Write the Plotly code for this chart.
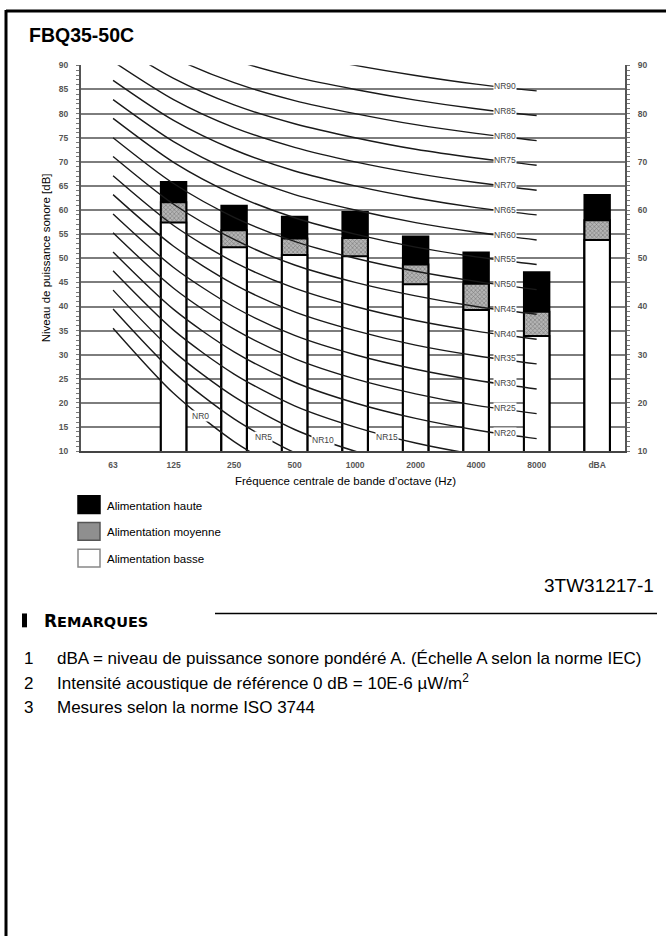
import plotly.graph_objects as go

# ---------------- data ----------------
categories = ["63", "125", "250", "500", "1000", "2000", "4000", "8000", "dBA"]
level_haute = [None, 65.8, 60.9, 58.6, 59.6, 54.5, 51.2, 47.1, 63.1]
level_moyenne = [None, 61.6, 55.8, 54.1, 54.2, 48.7, 44.7, 38.9, 57.9]
level_basse = [None, 57.4, 52.3, 50.7, 50.4, 44.6, 39.3, 33.9, 53.8]

nr_bands = ["63", "125", "250", "500", "1000", "2000", "4000", "8000"]
nr_numbers = [0, 5, 10, 15, 20, 25, 30, 35, 40, 45, 50, 55, 60, 65, 70, 75, 80, 85, 90]
nr_curves = [
    [35.5, 22.0, 12.0, 4.8, 0.0, -3.5, -6.1, -8.0],
    [39.5, 26.4, 16.7, 9.7, 5.0, 1.6, -1.0, -2.9],
    [43.4, 30.7, 21.3, 14.5, 10.0, 6.7, 4.2, 2.3],
    [47.4, 35.1, 26.0, 19.4, 15.0, 11.7, 9.3, 7.5],
    [51.3, 39.4, 30.6, 24.3, 20.0, 16.8, 14.4, 12.6],
    [55.3, 43.8, 35.3, 29.2, 25.0, 21.9, 19.5, 17.8],
    [59.2, 48.1, 39.9, 34.0, 30.0, 27.0, 24.7, 22.9],
    [63.2, 52.5, 44.6, 38.9, 35.0, 32.0, 29.8, 28.1],
    [67.1, 56.8, 49.2, 43.8, 40.0, 37.1, 34.9, 33.2],
    [71.1, 61.2, 53.9, 48.6, 45.0, 42.2, 40.0, 38.4],
    [75.0, 65.5, 58.5, 53.5, 50.0, 47.3, 45.2, 43.5],
    [79.0, 69.9, 63.2, 58.4, 55.0, 52.3, 50.3, 48.7],
    [82.9, 74.2, 67.8, 63.2, 60.0, 57.4, 55.4, 53.8],
    [86.9, 78.6, 72.5, 68.1, 65.0, 62.5, 60.5, 59.0],
    [90.8, 82.9, 77.1, 73.0, 70.0, 67.6, 65.7, 64.1],
    [94.8, 87.3, 81.8, 77.9, 75.0, 72.6, 70.8, 69.3],
    [98.7, 91.6, 86.4, 82.7, 80.0, 77.7, 75.9, 74.4],
    [102.7, 96.0, 91.1, 87.6, 85.0, 82.8, 81.0, 79.6],
    [106.6, 100.3, 95.7, 92.5, 90.0, 87.9, 86.1, 84.7],
]

y_ticks_left = [10, 15, 20, 25, 30, 35, 40, 45, 50, 55, 60, 65, 70, 75, 80, 85, 90]
y_ticks_right = [10, 20, 30, 40, 50, 60, 70, 80, 90]

legend_labels = ["Alimentation haute", "Alimentation moyenne", "Alimentation basse"]
chart_title = "FBQ35-50C"
x_title = "Fréquence centrale de bande d’octave (Hz)"
y_title = "Niveau de puissance sonore [dB]"
drawing_ref = "3TW31217-1"
notes = [
    "dBA = niveau de puissance sonore pondéré A. (Échelle A selon la norme IEC)",
    "Intensité acoustique de référence 0 dB = 10E-6 µW/m<sup>2</sup>",
    "Mesures selon la norme ISO 3744",
]

# ---------------- layout helpers ----------------
W, H = 666, 941
FONT = "Arial, 'Liberation Sans', sans-serif"


def px(x):
    return x / W


def py(y):
    return 1 - y / H


fig = go.Figure()

# NR curves
for n, vals in zip(nr_numbers, nr_curves):
    fig.add_trace(go.Scatter(
        x=nr_bands, y=vals, mode="lines",
        line=dict(color="#1a1a1a", width=1.4, shape="spline", smoothing=0.8),
        hoverinfo="skip", showlegend=False,
    ))

# bars (overlaid: highest level first)
bar_w = 0.42
fig.add_trace(go.Bar(
    x=categories, y=level_haute, width=bar_w, name=legend_labels[0],
    marker=dict(color="black", line=dict(color="black", width=2)),
))
fig.add_trace(go.Bar(
    x=categories, y=level_moyenne, width=bar_w, name=legend_labels[1],
    marker=dict(color="#9a9a9a", line=dict(color="black", width=2),
                pattern=dict(shape="x", size=3, solidity=0.35,
                             fgcolor="#3a3a3a", bgcolor="#b5b5b5")),
))
fig.add_trace(go.Bar(
    x=categories, y=level_basse, width=bar_w, name=legend_labels[2],
    marker=dict(color="white", line=dict(color="black", width=2)),
))

# dummy trace for the right axis
fig.add_trace(go.Scatter(x=[categories[0]], y=[None], yaxis="y2",
                         showlegend=False, hoverinfo="skip"))

tick_font = dict(family=FONT, size=8.5, color="#555", weight="bold")
minor = dict(dtick=1, ticks="outside", ticklen=3, tickcolor="#777",
             tickwidth=1, showgrid=False)

fig.update_layout(
    width=W, height=H,
    margin=dict(l=0, r=0, t=0, b=0),
    paper_bgcolor="white", plot_bgcolor="white",
    showlegend=False, barmode="overlay",
    font=dict(family=FONT, color="black"),
    xaxis=dict(
        type="category", categoryorder="array", categoryarray=categories,
        range=[-0.53, 8.46], domain=[px(81), px(625)],
        showgrid=False, showline=True, linecolor="#444", linewidth=1.5,
        ticks="", tickfont=tick_font, ticklabelstandoff=5,
        zeroline=False,
    ),
    yaxis=dict(
        range=[10, 90], domain=[py(451), py(61)],
        tickmode="array", tickvals=y_ticks_left,
        showgrid=True, gridcolor="#7d7d7d", gridwidth=1.5,
        showline=True, linecolor="#555", linewidth=2,
        ticks="outside", ticklen=3, tickcolor="#777",
        tickfont=tick_font, ticklabelstandoff=6,
        minor=minor, zeroline=False,
    ),
    yaxis2=dict(
        range=[10, 90], overlaying="y", side="right", anchor="x",
        tickmode="array", tickvals=y_ticks_right,
        showgrid=False, showline=True, linecolor="#555", linewidth=2,
        ticks="outside", ticklen=3, tickcolor="#777",
        tickfont=tick_font, ticklabelstandoff=6,
        minor=minor, zeroline=False,
    ),
)

annotations = []
shapes = []

# NR labels
label_font = dict(family=FONT, size=8.5, color="#444")
low_label_pos = {0: (1.44, 17.2), 5: (2.48, 13.0), 10: (3.47, 12.4), 15: (4.53, 13.0)}
for n, vals in zip(nr_numbers, nr_curves):
    if n in low_label_pos:
        lx, ly = low_label_pos[n]
    else:
        lx, ly = 6.48, (vals[6] + vals[7]) / 2 + 0.3
    annotations.append(dict(
        x=lx, y=ly, xref="x", yref="y", text=f"NR{n}", showarrow=False,
        font=label_font, bgcolor="white", borderpad=0,
    ))

# titles
annotations.append(dict(x=px(27), y=py(30), xref="paper", yref="paper",
                        xanchor="left", yanchor="middle", showarrow=False,
                        text=f"<b>{chart_title}</b>",
                        font=dict(family=FONT, size=19.5, color="black")))
annotations.append(dict(x=px(346), y=py(481), xref="paper", yref="paper",
                        xanchor="center", yanchor="middle", showarrow=False,
                        text=x_title, font=dict(family=FONT, size=11.5)))
annotations.append(dict(x=px(46), y=py(256), xref="paper", yref="paper",
                        xanchor="center", yanchor="middle", showarrow=False,
                        textangle=-90, text=y_title,
                        font=dict(family=FONT, size=11.5)))

# custom legend
legend_fill = ["black", "#8f8f8f", "white"]
legend_line = ["black", "#555", "#888"]
legend_top = [496, 523, 550]
for lab, fc, lc, top in zip(legend_labels, legend_fill, legend_line, legend_top):
    shapes.append(dict(type="rect", xref="paper", yref="paper",
                       x0=px(78), x1=px(100), y0=py(top), y1=py(top + 18),
                       fillcolor=fc, line=dict(color=lc, width=1.5)))
    annotations.append(dict(x=px(105), y=py(top + 10), xref="paper", yref="paper",
                            xanchor="left", yanchor="middle", showarrow=False,
                            text=lab, font=dict(family=FONT, size=11.5)))

# drawing reference
annotations.append(dict(x=px(656), y=py(587), xref="paper", yref="paper",
                        xanchor="right", yanchor="middle", showarrow=False,
                        text=drawing_ref, font=dict(family=FONT, size=19)))

# remarks header
annotations.append(dict(x=px(42), y=py(623), xref="paper", yref="paper",
                        xanchor="left", yanchor="middle", showarrow=False,
                        text="<b><span style='font-size:17px'>R</span>EMARQUES</b>",
                        font=dict(family="'DejaVu Sans', Arial, sans-serif", size=14.5)))
shapes.append(dict(type="rect", xref="paper", yref="paper",
                   x0=px(22), x1=px(27), y0=py(615), y1=py(629),
                   fillcolor="black", line=dict(width=0)))
shapes.append(dict(type="line", xref="paper", yref="paper",
                   x0=px(215), x1=px(657), y0=py(615), y1=py(615),
                   line=dict(color="black", width=1.5)))

note_y = [659, 684, 709]
for i, (txt, yy) in enumerate(zip(notes, note_y)):
    annotations.append(dict(x=px(28), y=py(yy + 13), xref="paper", yref="paper",
                            xanchor="center", yanchor="bottom", showarrow=False,
                            text=str(i + 1), font=dict(family=FONT, size=17)))
    annotations.append(dict(x=px(55), y=py(yy + 13), xref="paper", yref="paper",
                            xanchor="left", yanchor="bottom", showarrow=False,
                            text=txt, font=dict(family=FONT, size=17)))

# page frame
shapes.append(dict(type="line", xref="paper", yref="paper",
                   x0=px(6), x1=1, y0=py(6), y1=py(6),
                   line=dict(color="black", width=3)))
shapes.append(dict(type="line", xref="paper", yref="paper",
                   x0=px(6), x1=px(6), y0=py(5), y1=0,
                   line=dict(color="black", width=3)))

fig.update_layout(annotations=annotations, shapes=shapes)

fig.write_html("out.html", config={"displayModeBar": False},
               post_script="document.body.style.margin='0px';document.body.style.overflow='hidden';")
